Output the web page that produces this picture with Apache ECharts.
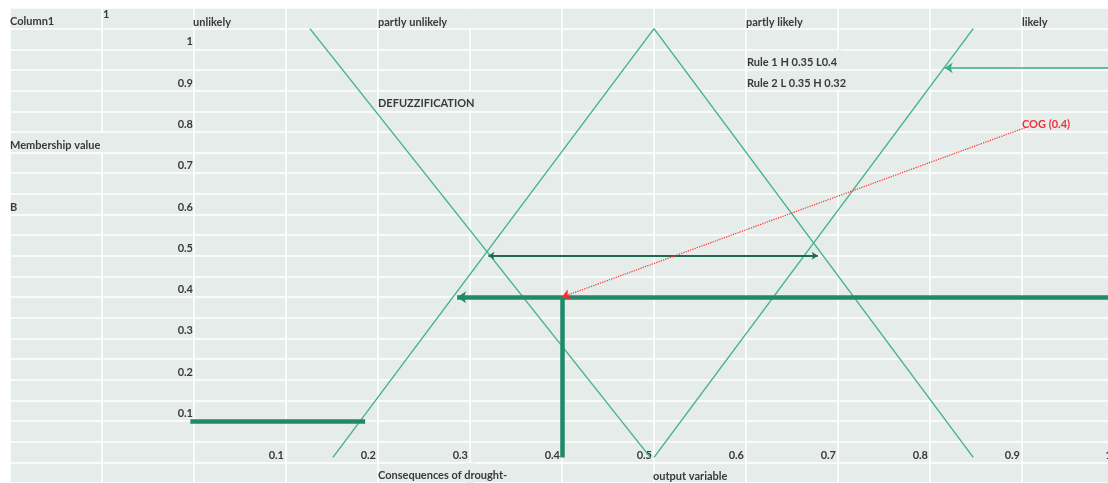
<!DOCTYPE html>
<html>
<head>
<meta charset="utf-8">
<script src="https://cdn.jsdelivr.net/npm/echarts@6/dist/echarts.min.js"></script>
<style>
html,body{margin:0;padding:0;background:#ffffff;}
#chart{width:1108px;height:483px;}
</style>
</head>
<body>
<div id="chart"></div>
<script>
// ---- data ----
const xTickLabels = ['0.1', '0.2', '0.3', '0.4', '0.5', '0.6', '0.7', '0.8', '0.9', '1'];
const yTickLabels = ['0.1', '0.2', '0.3', '0.4', '0.5', '0.6', '0.7', '0.8', '0.9', '1'];
const setNames = ['unlikely', 'partly unlikely', 'partly likely', 'likely'];
// membership-function lines [x, membership]
const descendingSet = [[0.126, 1.05], [0.496, 0.012]];
const triangleSet = [[0.151, 0.012], [0.5, 1.05], [0.847, 0.012]];
const ascendingSet = [[0.5, 0.012], [0.847, 1.05]];
// rule / defuzzification arrows [from, to]
const rule1Cut = [[1.0, 0.955], [0.816, 0.955]];
const rule2Span = [[0.32, 0.5], [0.678, 0.5]];
const lowCut = [[-0.004, 0.1], [0.186, 0.1]];
const cogLevel = [[1.0, 0.4], [0.286, 0.4]];
const cogDrop = [[0.4, 0.4], [0.4, 0.012]];
const cogPointer = [[0.903, 0.81], [0.4, 0.4]];
// cell texts
const cornerTitle = 'Column1';
const cornerIndex = '1';
const rule1Text = 'Rule 1 H 0.35 L0.4';
const rule2Text = 'Rule 2 L 0.35 H 0.32';
const methodText = 'DEFUZZIFICATION';
const yTitle = 'Membership value';
const yLetter = 'B';
const xTitle1 = 'Consequences of drought-';
const xTitle2 = 'output variable';
const cogText = 'COG (0.4)';

// ---- styling ----
const BG = '#e5ece9';
const TXT = '#3a3a3a';
const FONT = 'bold 11px Lato';
const thin = '#45b28c';
const thick = '#1f8a6a';

const chart = echarts.init(document.getElementById('chart'), null, {renderer: 'canvas'});

function xLabel(v) {
  const k = Math.round(v * 10);
  if (Math.abs(v * 10 - k) > 1e-6 || k < 1 || k > xTickLabels.length) return '';
  return xTickLabels[k - 1];
}
function yLabel(v) {
  const k = Math.round(v * 20);
  if (Math.abs(v * 20 - k) > 1e-6 || k % 2 !== 0) return '';
  const i = k / 2;
  if (i < 1 || i > yTickLabels.length) return '';
  return yTickLabels[i - 1];
}

function txt(text, x, y, color) {
  return {type: 'text', x: x, y: y, z: 10,
    style: {text: text, fill: color || TXT, font: FONT, verticalAlign: 'middle', align: 'left'}};
}
function mask(x, y, w, h) {
  return {type: 'rect', z: 1, shape: {x: x, y: y, width: w, height: h}, style: {fill: BG}};
}

function arrow(coords, color, width, symbols, size, type) {
  return {
    type: 'lines', coordinateSystem: 'cartesian2d', xAxisIndex: 0, yAxisIndex: 0,
    symbol: symbols, symbolSize: size, silent: true, z: 4,
    lineStyle: {color: color, width: width, opacity: 1, type: type || 'solid', curveness: 0},
    data: [{coords: coords}]
  };
}
function fline(data) {
  return {type: 'line', xAxisIndex: 0, yAxisIndex: 0, data: data, showSymbol: false, symbol: 'none',
    silent: true, z: 3, lineStyle: {color: thin, width: 1.4}};
}

const labelStyle = {color: TXT, fontFamily: 'Lato', fontSize: 11, fontWeight: 'bold'};

const option = {
  animation: false,
  backgroundColor: '#ffffff',
  grid: [
    {left: 10, right: -6, top: 8, bottom: 0, show: true, backgroundColor: BG, borderWidth: 0, containLabel: false, outerBoundsMode: 'none'},
    {left: 194, right: -6, top: 8, bottom: 0, show: false, containLabel: false, outerBoundsMode: 'none'},
    {left: 10, right: -6, top: 8, bottom: 20.7, show: false, containLabel: false, outerBoundsMode: 'none'}
  ],
  xAxis: [
    {gridIndex: 0, type: 'value', min: -0.2, max: 1.0, interval: 0.1,
     axisLine: {show: false}, axisTick: {show: false}, axisLabel: {show: false},
     splitLine: {show: true, lineStyle: {color: '#ffffff', width: 1.6}}},
    {gridIndex: 1, type: 'value', min: 0, max: 1.0, show: false},
    {gridIndex: 2, type: 'value', min: -0.2, max: 1.0, interval: 0.1, position: 'bottom',
     axisLine: {show: false, onZero: false}, axisTick: {show: false}, splitLine: {show: false},
     axisLabel: Object.assign({show: true, inside: true, margin: 1, formatter: xLabel, align: 'right',
       padding: [0, 2, 0, 0], hideOverlap: false, showMinLabel: true, showMaxLabel: true}, labelStyle)}
  ],
  yAxis: [
    {gridIndex: 0, type: 'value', min: -0.05, max: 1.1, interval: 0.05,
     axisLine: {show: false}, axisTick: {show: false}, axisLabel: {show: false},
     splitLine: {show: true, lineStyle: {color: '#ffffff', width: 1.6}}},
    {gridIndex: 1, type: 'value', min: -0.05, max: 1.1, interval: 0.05, position: 'left',
     axisLine: {show: false, onZero: false}, axisTick: {show: false}, splitLine: {show: false},
     axisLabel: Object.assign({show: true, margin: 1, formatter: yLabel, verticalAlign: 'bottom',
       padding: [0, 0, 2, 0], hideOverlap: false, showMinLabel: true, showMaxLabel: true}, labelStyle)},
    {gridIndex: 2, type: 'value', min: 0, max: 1, show: false}
  ],
  series: [
    fline(descendingSet),
    fline(triangleSet),
    fline(ascendingSet),
    arrow(lowCut, thick, 4.5, ['none', 'none'], 1),
    arrow(cogLevel, thick, 4.5, ['none', 'arrow'], [9, 9]),
    arrow(cogDrop, thick, 4.5, ['none', 'none'], 1),
    arrow(rule2Span, '#1f6b52', 2, ['arrow', 'arrow'], [6, 6]),
    arrow(rule1Cut, '#3aae85', 1.5, ['none', 'arrow'], [8, 8]),
    arrow(cogPointer, '#ff2a2a', 1.2, ['none', 'arrow'], [8, 8], 'dotted')
  ],
  graphic: [
    // cells where overflowing text hides the sheet gridlines
    mask(466, 9.5, 8, 18.3),
    mask(834, 50.2, 8, 18.8),
    mask(834, 70.8, 8, 18.8),
    mask(466, 91.5, 8, 18.8),
    mask(98, 132.8, 8, 18.8),
    mask(466, 463.2, 8, 20),
    // cell texts
    txt(cornerTitle, 10, 21.5),
    txt(cornerIndex, 103, 14),
    txt(setNames[0], 193, 22),
    txt(setNames[1], 378, 22),
    txt(setNames[2], 746, 22),
    txt(setNames[3], 1022, 22),
    txt(rule1Text, 747, 62),
    txt(rule2Text, 747, 83),
    txt(methodText, 378, 103),
    txt(yTitle, 10, 145),
    txt(yLetter, 10, 207),
    txt(xTitle1, 378, 475.5),
    txt(xTitle2, 653, 476),
    txt(cogText, 1022, 124.5, '#f0303a')
  ]
};
chart.setOption(option);
</script>
</body>
</html>
